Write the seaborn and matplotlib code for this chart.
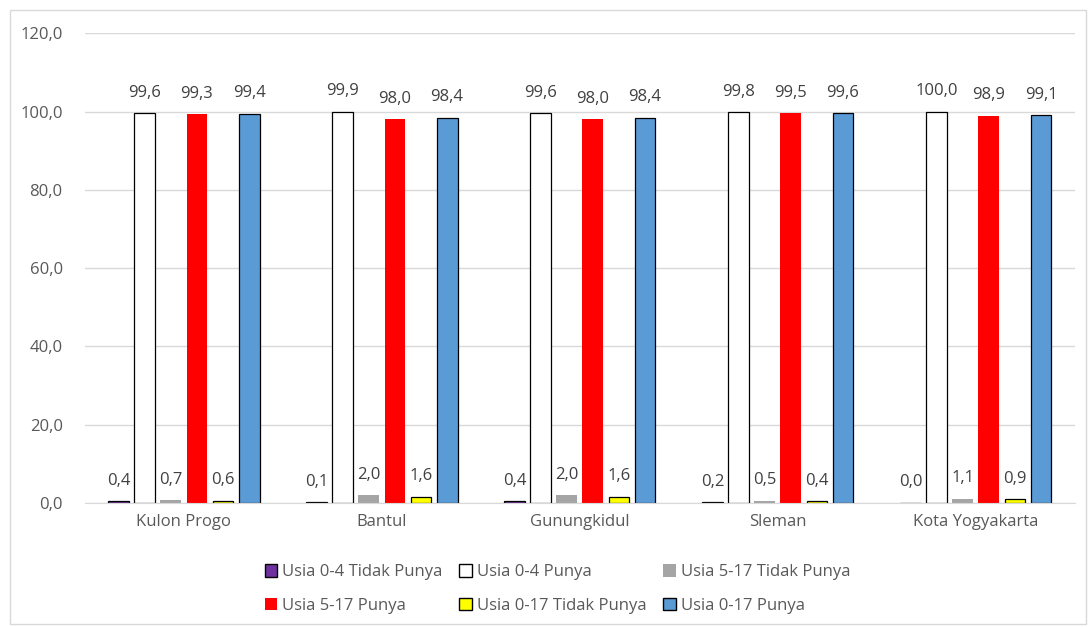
import matplotlib
matplotlib.use("Agg")
import matplotlib.pyplot as plt
import seaborn as sns
import pandas as pd
from matplotlib.patches import Rectangle

categories = ["Kulon Progo", "Bantul", "Gunungkidul", "Sleman", "Kota Yogyakarta"]
series = ["Usia 0-4 Tidak Punya", "Usia 0-4 Punya", "Usia 5-17 Tidak Punya",
          "Usia 5-17 Punya", "Usia 0-17 Tidak Punya", "Usia 0-17 Punya"]
u04_tidak = [0.4, 0.1, 0.4, 0.2, 0.0]
u04_punya = [99.6, 99.9, 99.6, 99.8, 100.0]
u517_tidak = [0.7, 2.0, 2.0, 0.5, 1.1]
u517_punya = [99.3, 98.0, 98.0, 99.5, 98.9]
u017_tidak = [0.6, 1.6, 1.6, 0.4, 0.9]
u017_punya = [99.4, 98.4, 98.4, 99.6, 99.1]
yticks = [0, 20, 40, 60, 80, 100, 120]

colors = ["#7030a0", "#ffffff", "#a5a5a5", "#ff0000", "#ffff00", "#5b9bd5"]
edges = ["black", "black", "none", "none", "black", "black"]

values = [u04_tidak, u04_punya, u517_tidak, u517_punya, u017_tidak, u017_punya]
rows = []
for s, vals in zip(series, values):
    for c, v in zip(categories, vals):
        rows.append({"Kabupaten": c, "Seri": s, "Nilai": v})
df = pd.DataFrame(rows)

sns.set_style("white")
plt.rcParams["font.family"] = ["Open Sans", "DejaVu Sans"]

fig = plt.figure(figsize=(10.89, 6.27), dpi=100)
ax = fig.add_axes([0.078, 0.198, 0.909, 0.749])

sns.barplot(data=df, x="Kabupaten", y="Nilai", hue="Seri", order=categories,
            hue_order=series, palette=colors, saturation=1, width=0.79, gap=0.2,
            ax=ax, legend=True, errorbar=None)

for cont, ec in zip(ax.containers, edges):
    for p in cont.patches:
        p.set_edgecolor(ec)
        p.set_linewidth(0.9 if ec != "none" else 0)
    labs = [f"{v:.1f}".replace(".", ",") for v in cont.datavalues]
    ax.bar_label(cont, labels=labs, padding=9, fontsize=12, color="#404040")

ax.set_ylim(0, 120)
ax.set_yticks(yticks)
ax.set_yticklabels([f"{t:.1f}".replace(".", ",") for t in yticks], fontsize=12, color="#595959")
ax.tick_params(axis="x", labelsize=12, labelcolor="#595959", length=0, pad=8)
ax.tick_params(axis="y", length=0, pad=16)
ax.set_xlabel("")
ax.set_ylabel("")
ax.yaxis.grid(True, color="#d9d9d9", linewidth=1)
ax.set_axisbelow(True)
for s in ["top", "right", "left"]:
    ax.spines[s].set_visible(False)
ax.spines["bottom"].set_color("#d9d9d9")

handles, lbls = ax.get_legend_handles_labels()
ax.legend_.remove()
order = [0, 3, 1, 4, 2, 5]
leg = fig.legend([handles[i] for i in order], [lbls[i] for i in order],
                 loc="lower center", bbox_to_anchor=(0.512, -0.003), ncol=3, frameon=False,
                 fontsize=12, labelcolor="#595959", handlelength=0.75, handleheight=0.75,
                 handletextpad=0.3, columnspacing=1.0, labelspacing=1.05)
for h, i in zip(leg.legend_handles, order):
    h.set_facecolor(colors[i])
    h.set_edgecolor(edges[i])
    h.set_linewidth(1.0 if edges[i] != "none" else 0)

fig.patches.append(Rectangle((10 / 1089, 3 / 627), 1076 / 1089, 614 / 627,
                             transform=fig.transFigure, fill=False,
                             edgecolor="#d9d9d9", linewidth=1))

fig.savefig("out.png", dpi=100)
